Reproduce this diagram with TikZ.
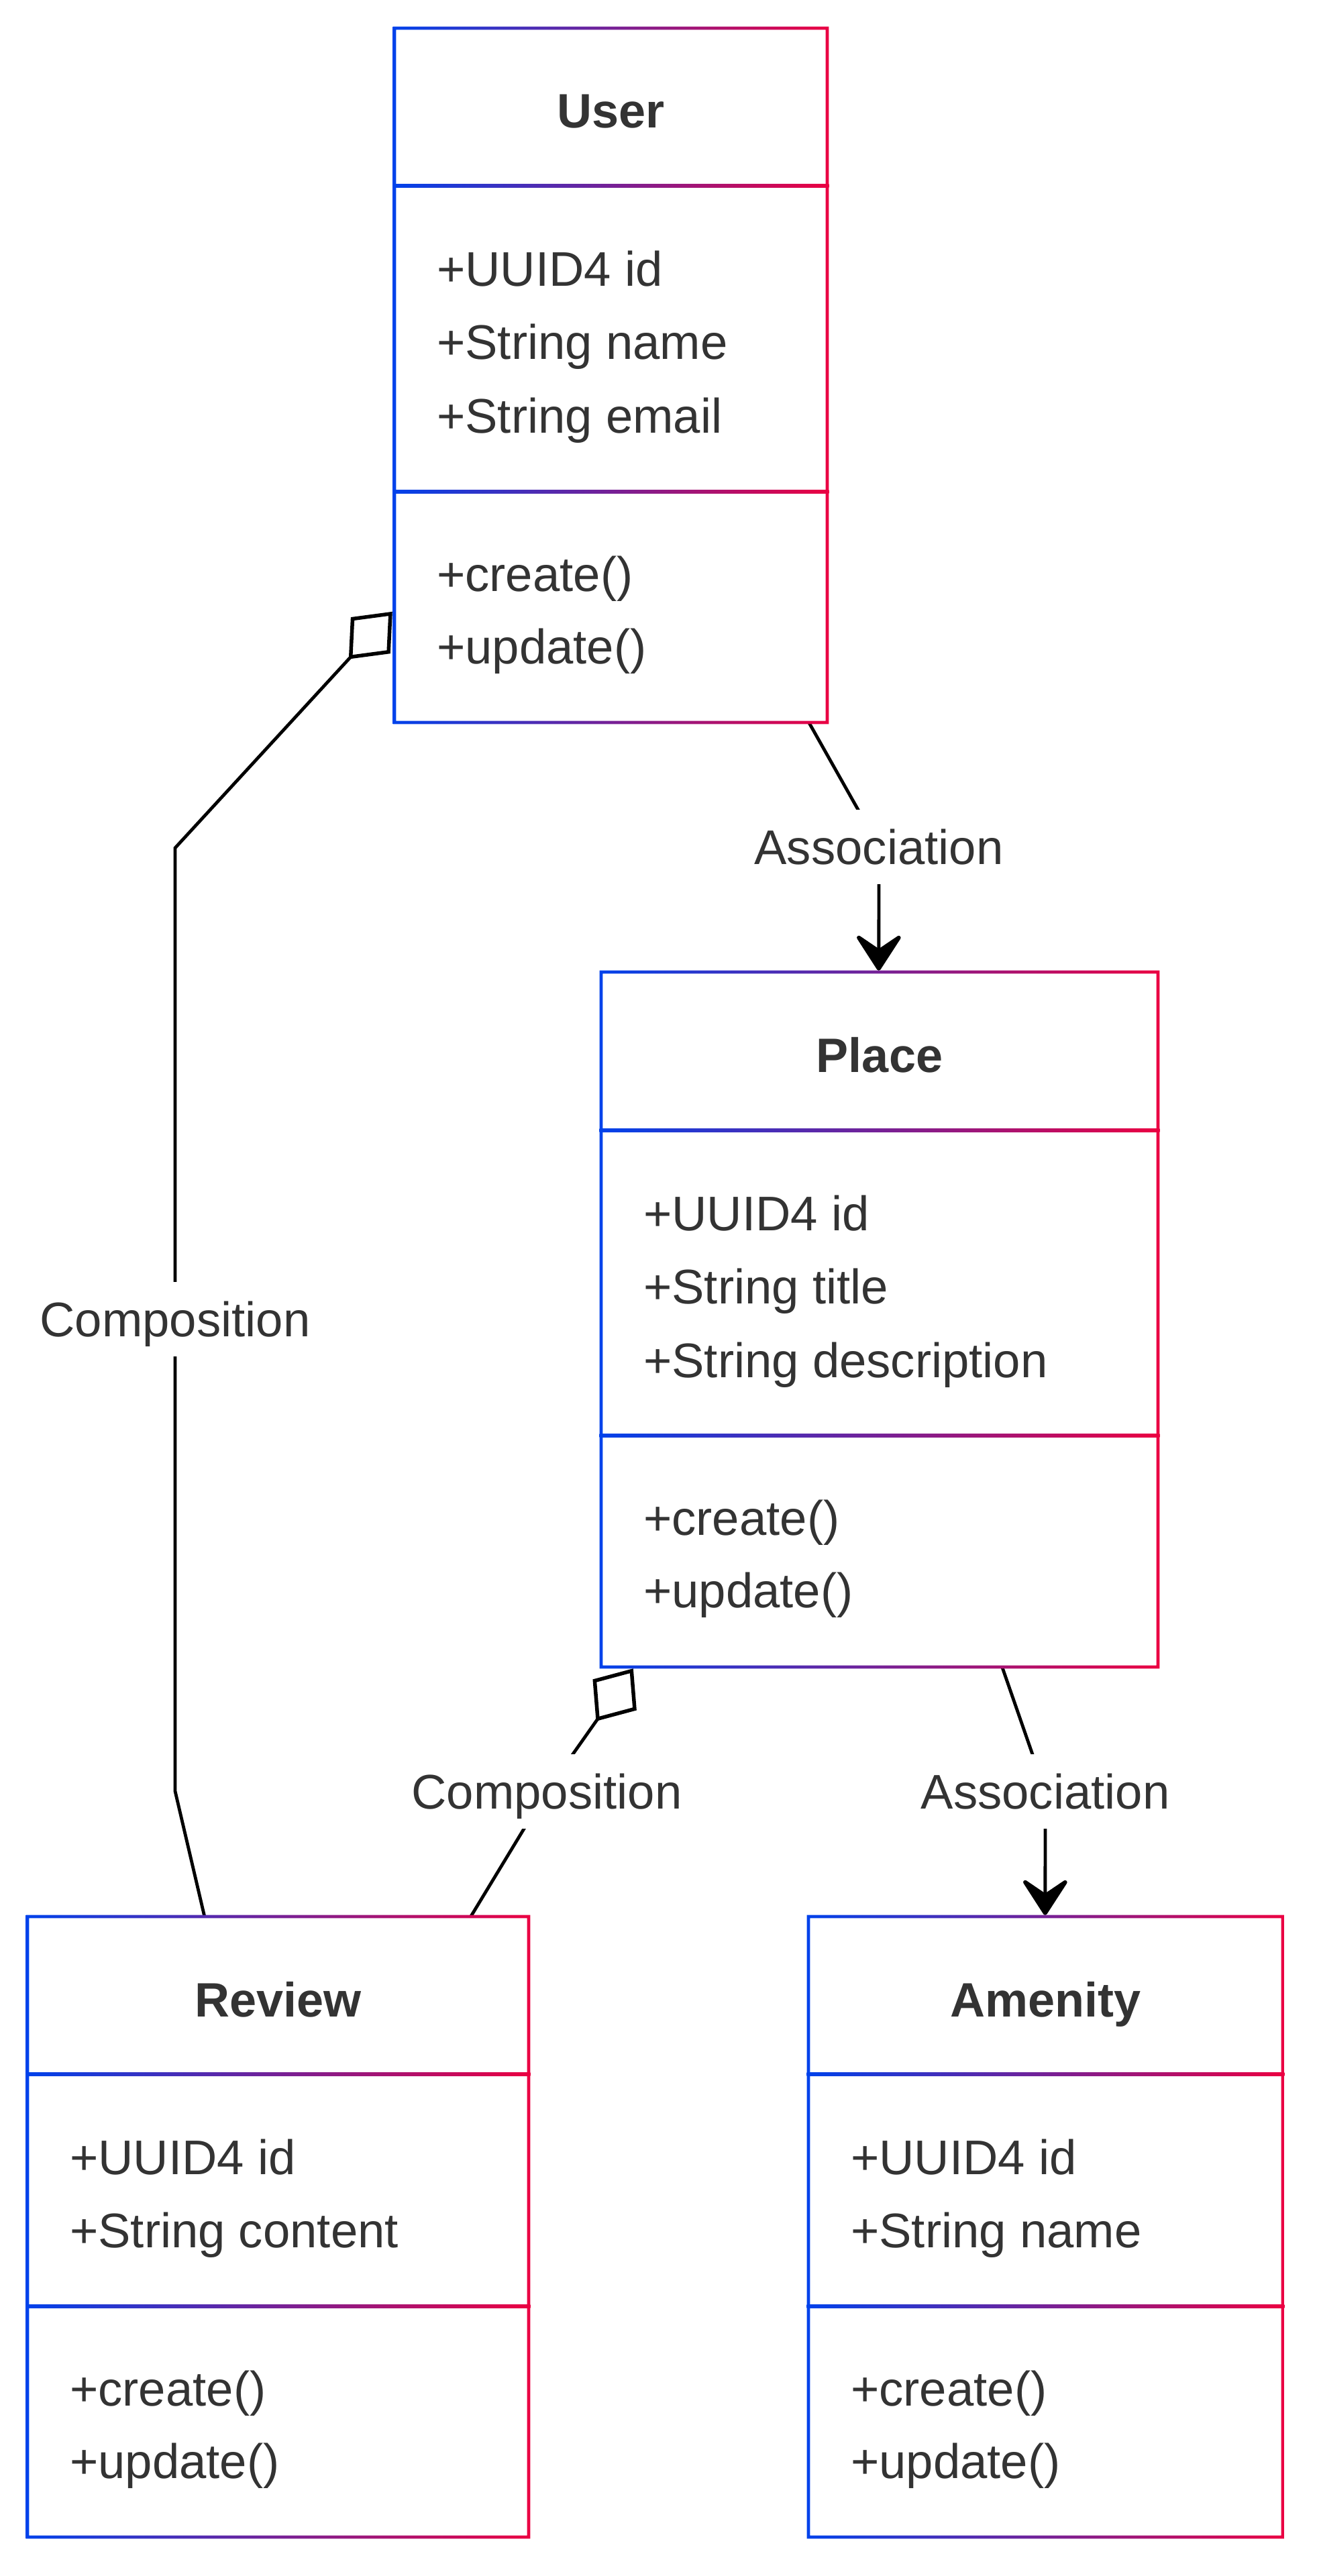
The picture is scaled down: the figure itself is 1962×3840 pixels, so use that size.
\documentclass[tikz,border=0pt]{standalone}
\usepackage{fontspec}
\setmainfont{Liberation Sans}
\usetikzlibrary{arrows.meta,calc}
\definecolor{gstart}{HTML}{0042EB}
\definecolor{gstop}{HTML}{EB0042}
\definecolor{txt}{HTML}{333333}
\def\hw{2.4}
% name x1 y1 x2 y2
\newcommand\umlnode[5]{%
  \node[inner sep=0pt,minimum width={(#4-#2)*1pt},minimum height={(#5-#3)*1pt}] (#1) at ({(#2+#4)/2},{(#3+#5)/2}) {};}
% x1 y1 x2 y2 d1 d2
\newcommand\umlframe[6]{%
  \shade[left color=gstart,right color=gstop,even odd rule]
    ({#1-\hw},{#2-\hw}) rectangle ({#3+\hw},{#4+\hw})
    ({#1+\hw},{#2+\hw}) rectangle ({#3-\hw},{#4-\hw});
  \shade[left color=gstart,right color=gstop] ({#1-\hw},{#5-\hw}) rectangle ({#3+\hw},{#5+\hw});
  \shade[left color=gstart,right color=gstop] ({#1-\hw},{#6-\hw}) rectangle ({#3+\hw},{#6+\hw});}
\begin{document}
\begin{tikzpicture}[x=1pt,y=-1pt,
  clsname/.style={font=\bfseries\fontsize{72}{86}\selectfont,text=txt,anchor=base,inner sep=0pt},
  member/.style={font=\fontsize{72.5}{87}\selectfont,text=txt,anchor=base west,inner sep=0pt},
  lbl/.style={font=\fontsize{72.5}{87}\selectfont,text=txt,fill=white,inner sep=0pt,
    text height=52pt,text depth=0pt,minimum height=111pt},
  conn/.style={draw=black,line width=4.8pt},
  comp/.style={{Diamond[open,length=96pt,width=80pt,line width=5.5pt]}-},
  assoc/.style={-{Stealth[length=62pt,width=80pt,inset=27pt,line width=6pt,round]}}]
\fill[white] (0,0) rectangle (1962,3840);
\useasboundingbox (0,0) rectangle (1962,3840);

% class boxes (named)
\umlnode{user}{588}{42}{1233}{1077}
\umlnode{place}{896}{1449}{1726}{2485}
\umlnode{review}{41}{2857}{788}{3782}
\umlnode{amenity}{1205}{2857}{1912}{3782}

% connector end points on the boxes
\coordinate (uA) at ($(user.north west)+(-3,870)$);
\coordinate (uB) at ($(user.south west)+(618,0)$);
\coordinate (pB) at ($(place.north west)+(414,-2)$);
\coordinate (pA) at ($(place.south west)+(48,2)$);
\coordinate (pC) at ($(place.south west)+(598,0)$);
\coordinate (rA) at ($(review.north west)+(264,0)$);
\coordinate (rB) at ($(review.north west)+(661,0)$);
\coordinate (aB) at ($(amenity.north west)+(353,-2)$);
\coordinate (b1) at (261,1264);
\coordinate (b2) at (261,2670);

% connectors
\draw[conn,comp] (uA) -- (b1) -- (261,1966) node[lbl] (l4) {Composition} -- (b2) -- (rA);
\draw[conn,comp] (pA) -- (815,2670) node[lbl] (l3) {Composition} -- (rB);
\draw[conn,assoc] (uB) -- (1310,1262) node[lbl] (l1) {Association} -- (pB);
\draw[conn,assoc] (pC) -- (1558,2670) node[lbl] (l2) {Association} -- (aB);

% frames
\umlframe{588}{42}{1233}{1077}{277}{733}
\umlframe{896}{1449}{1726}{2485}{1685}{2140}
\umlframe{41}{2857}{788}{3782}{3092}{3438}
\umlframe{1205}{2857}{1912}{3782}{3092}{3438}

% User
\node[clsname] (userT) at (910.5,191) {User};
\node[member] (userA1) at (651,426) {+UUID4 id};
\node[member] (userA2) at (651,535.5) {+String name};
\node[member] (userA3) at (651,645) {+String email};
\node[member] (userM1) at (651,881) {+create()};
\node[member] (userM2) at (651,989.5) {+update()};

% Place
\node[clsname] (placeT) at (1311,1598) {Place};
\node[member] (placeA1) at (959,1834) {+UUID4 id};
\node[member] (placeA2) at (959,1943.5) {+String title};
\node[member] (placeA3) at (959,2053) {+String description};
\node[member] (placeM1) at (959,2288) {+create()};
\node[member] (placeM2) at (959,2396.5) {+update()};

% Review
\node[clsname] (reviewT) at (414.5,3006) {Review};
\node[member] (reviewA1) at (104,3241) {+UUID4 id};
\node[member] (reviewA2) at (104,3350.5) {+String content};
\node[member] (reviewM1) at (104,3586) {+create()};
\node[member] (reviewM2) at (104,3694.5) {+update()};

% Amenity
\node[clsname] (amenT) at (1558.5,3006) {Amenity};
\node[member] (amenA1) at (1268,3241) {+UUID4 id};
\node[member] (amenA2) at (1268,3350.5) {+String name};
\node[member] (amenM1) at (1268,3586) {+create()};
\node[member] (amenM2) at (1268,3694.5) {+update()};
\end{tikzpicture}
\end{document}
